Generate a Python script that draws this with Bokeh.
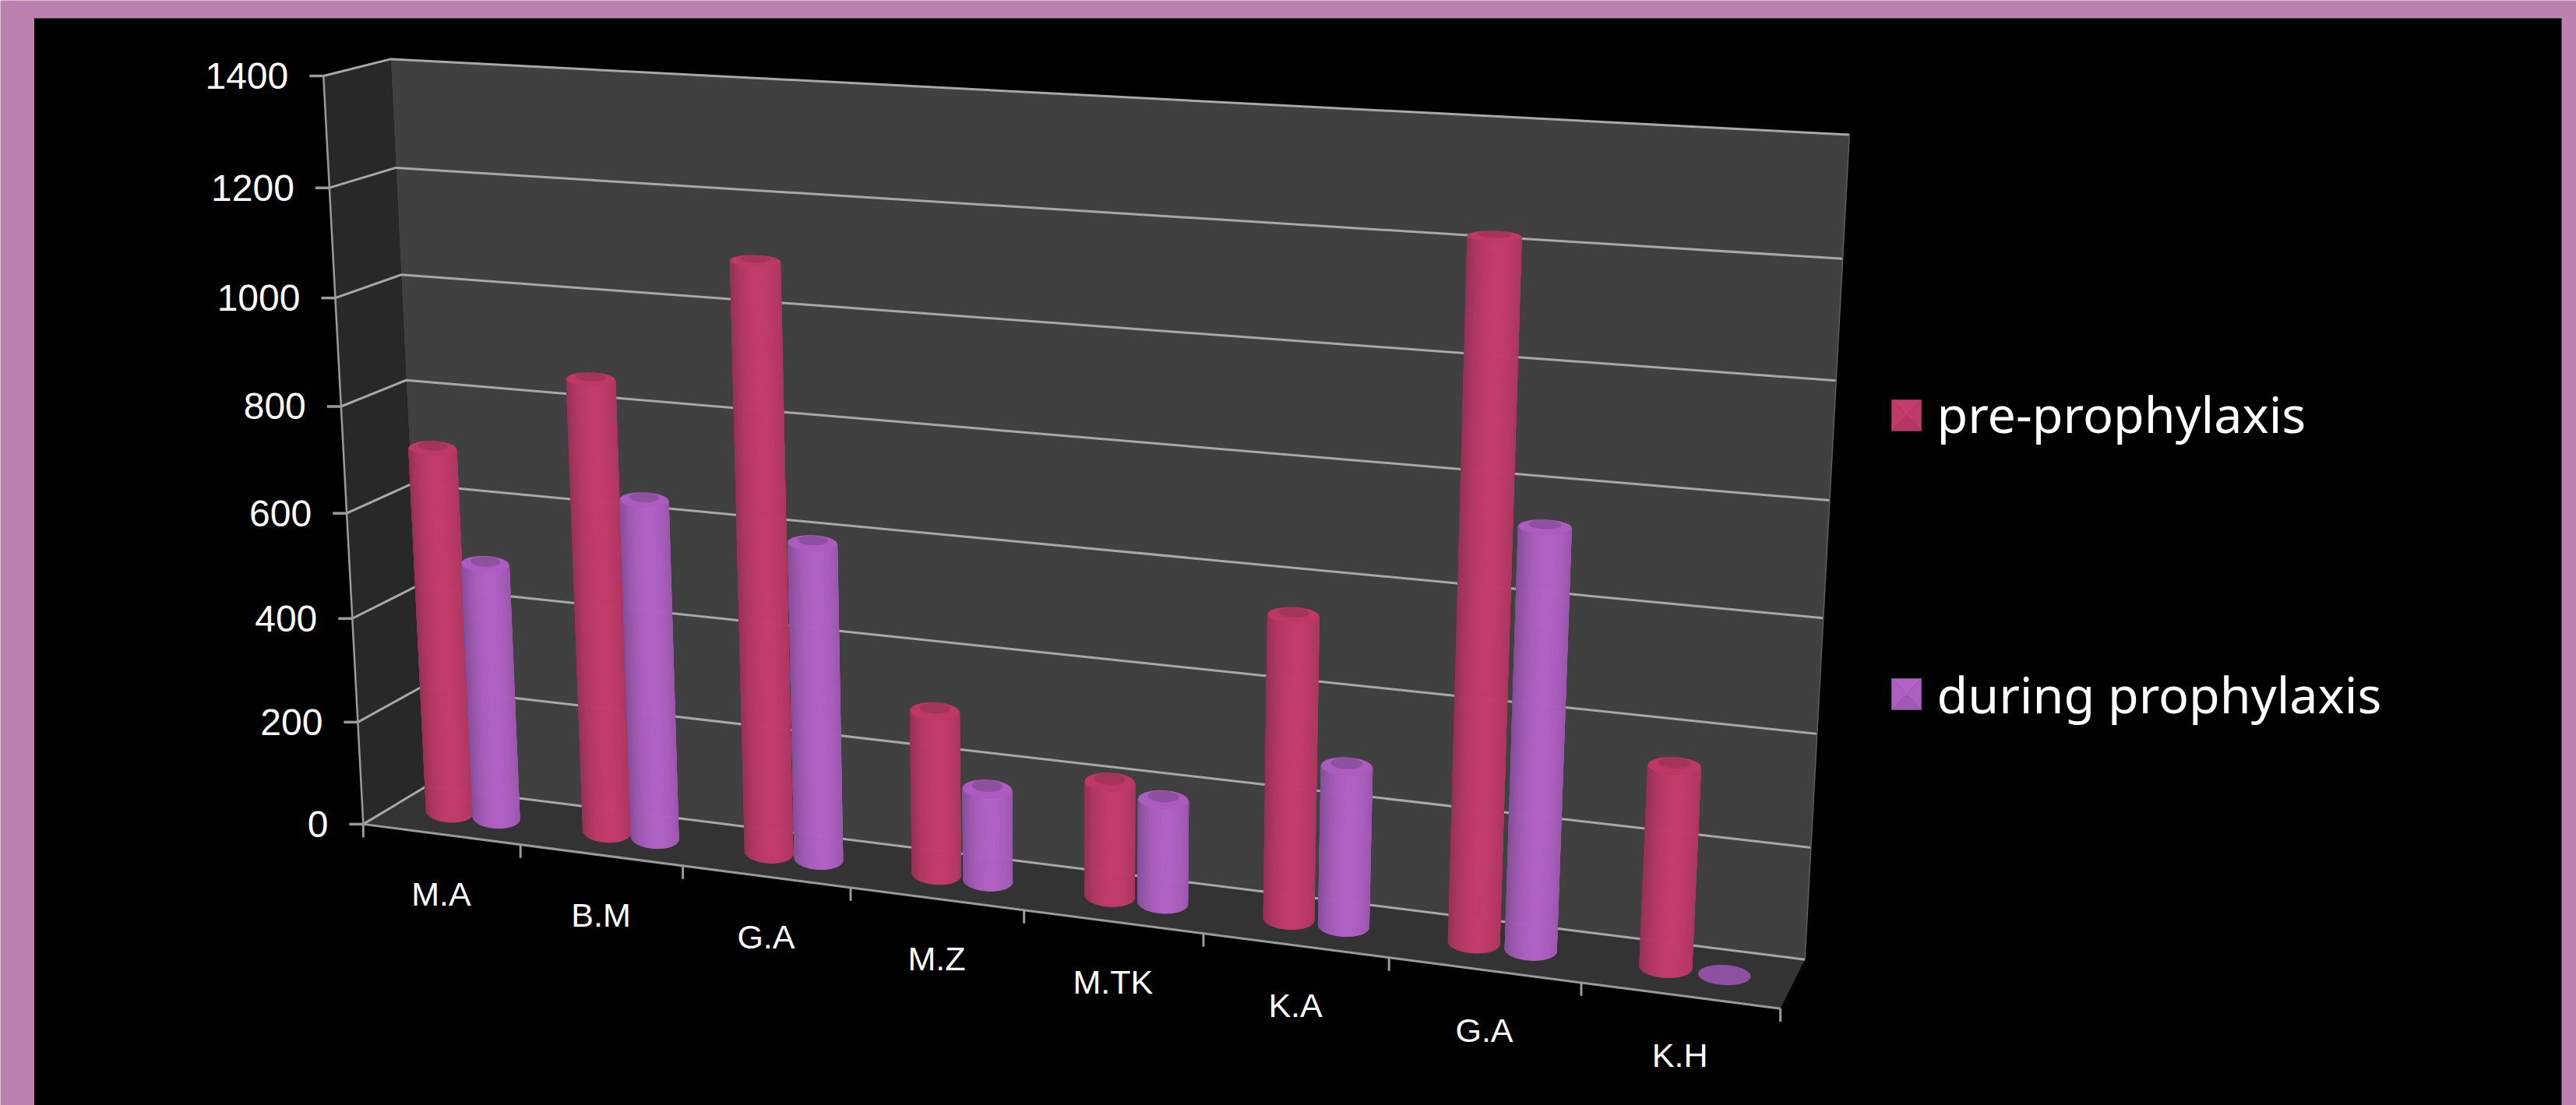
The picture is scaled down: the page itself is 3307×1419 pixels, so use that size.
import numpy as np
from bokeh.core.properties import value
from bokeh.embed import file_html
from bokeh.models import ColumnDataSource, Range1d
from bokeh.plotting import figure
from bokeh.resources import INLINE

# Chart content
categories = ["M.A", "B.M", "G.A", "M.Z", "M.TK", "K.A", "G.A", "K.H"]
pre_prophylaxis = [705, 860, 1097, 307, 213, 550, 1223, 356]
during_prophylaxis = [494, 645, 595, 173, 192, 291, 744, 0]
value_ticks = [0, 200, 400, 600, 800, 1000, 1200, 1400]
series_names = ["pre-prophylaxis", "during prophylaxis"]

W, H = 3307, 1419
PAGE, BLACK = "#bb80ae", "#000000"
BACK_WALL, SIDE_WALL, FLOOR = "#404040", "#282828", "#333333"
GRID, AXIS = "#a8a8a8", "#9a9a9a"
RED = dict(edge=(150, 50, 86), mid=(196, 60, 108), cap=(190, 56, 102), lid=(164, 52, 90))
PURPLE = dict(edge=(134, 78, 152), mid=(178, 98, 198), cap=(172, 92, 190), lid=(142, 80, 160))

# Box corners seen on the page: (category position, value, depth) -> pixel position.
anchors = [
    (0, 0, 0, 468, 1058), (0, 1400, 0, 415, 97), (0, 800, 0, 435, 521),
    (0, 0, 1, 545, 1010), (0, 1400, 1, 502, 76), (0, 800, 1, 521, 487),
    (8, 0, 1, 2317, 1231), (8, 1400, 1, 2374, 172), (8, 800, 1, 2348, 643),
    (8, 0, 0, 2285, 1295),
]


def fit_camera(points):
    rows, rhs = [], []
    for u, v, w, x, y in points:
        rows.append([u, v, w, 1, 0, 0, 0, 0, -x * u, -x * v, -x * w])
        rhs.append(x)
        rows.append([0, 0, 0, 0, u, v, w, 1, -y * u, -y * v, -y * w])
        rhs.append(y)
    coef = np.linalg.lstsq(np.array(rows, float), np.array(rhs, float), rcond=None)[0]
    return np.append(coef, 1.0).reshape(3, 4)


CAMERA = fit_camera(anchors)


def project(u, v, w):
    u, v, w = np.broadcast_arrays(np.asarray(u, float), np.asarray(v, float), np.asarray(w, float))
    pts = np.stack([u, v, w, np.ones_like(u)])
    out = CAMERA @ pts.reshape(4, -1)
    return (out[0] / out[2]).reshape(u.shape), (out[1] / out[2]).reshape(u.shape)


def hex_of(rgb):
    return "#%02x%02x%02x" % tuple(int(round(c)) for c in rgb)


def blend(a, b, t):
    return tuple(a[i] + (b[i] - a[i]) * t for i in range(3))


p = figure(width=W, height=H, x_range=Range1d(0, W), y_range=Range1d(H, 0),
           output_backend="svg", toolbar_location=None, min_border=0,
           background_fill_color=PAGE, border_fill_color=PAGE, outline_line_color=None)
p.axis.visible = False
p.grid.visible = False

p.quad(left=[43.5], right=[3288], top=[23], bottom=[H], fill_color=BLACK, line_color=None)


def face(us, vs, ws, color):
    x, y = project(us, vs, ws)
    p.patch(list(x), list(y), fill_color=color, line_color=None)


TOP = value_ticks[-1]
N_CAT = len(categories)
face([0, N_CAT, N_CAT, 0], [0, 0, TOP, TOP], [1, 1, 1, 1], BACK_WALL)
face([0, 0, 0, 0], [0, TOP, TOP, 0], [0, 0, 1, 1], SIDE_WALL)
face([0, N_CAT, N_CAT, 0], [0, 0, 0, 0], [0, 0, 1, 1], FLOOR)

# Gridlines run along the side wall and the back wall.
for t in value_ticks:
    x, y = project([0, 0, N_CAT], [t, t, t], [0, 1, 1])
    p.line(list(x), list(y), line_color=GRID, line_width=3)

x, y = project([0, 0], [0, TOP], [0, 0])
p.line(list(x), list(y), line_color=AXIS, line_width=2.5)
x, y = project([N_CAT, N_CAT], [0, TOP], [1, 1])
p.line(list(x), list(y), line_color="#5c5c5c", line_width=1.5)
x, y = project([0, N_CAT], [0, 0], [0, 0])
p.line(list(x), list(y), line_color=AXIS, line_width=3)

# Value axis ticks and labels.
tx, ty = project(np.zeros(len(value_ticks)), value_ticks, np.zeros(len(value_ticks)))
p.segment(x0=list(tx - 18), y0=list(ty), x1=list(tx), y1=list(ty), line_color=AXIS, line_width=3.5)
p.text(x=list(tx - 45), y=list(ty), text=[str(t) for t in value_ticks],
       text_font=value("Liberation Sans"), text_font_size="48px", text_color="#ffffff",
       text_align="right", text_baseline="middle")

# Category ticks and labels.
cu = np.arange(N_CAT + 1)
cx, cy = project(cu, np.zeros_like(cu), np.zeros_like(cu))
p.segment(x0=list(cx), y0=list(cy), x1=list(cx), y1=list(cy + 17), line_color=AXIS, line_width=3)
lx, ly = project(np.arange(N_CAT) + 0.5, np.zeros(N_CAT), np.zeros(N_CAT))
p.text(x=list(lx), y=list(ly + 77), text=categories,
       text_font=value("Liberation Sans"), text_font_size="43px", text_color="#ffffff",
       text_align="center", text_baseline="middle")

# Cylinders: the foot is a nearly level ellipse on the page, solved back into
# floor coordinates and carried up to the bar's value by the same projection.
OFFSETS = (0.355, 0.655)
FOOT_HEIGHT = 13.0
FOOT_TILT = 0.05


def foot(centre, scale, lift):
    x0, y0 = project(centre, 0, 0.5)
    xu, yu = project(centre + 0.01, 0, 0.5)
    xw, yw = project(centre, 0, 0.51)
    jac = np.array([[(xu - x0) / 0.01, (xw - x0) / 0.01],
                    [(yu - y0) / 0.01, (yw - y0) / 0.01]], float)
    half_width = 16 + 0.07 * jac[0, 0]
    theta = np.linspace(0, 2 * np.pi, 145)
    dx = scale * half_width * np.cos(theta)
    dy = scale * FOOT_HEIGHT * np.sin(theta) + FOOT_TILT * dx + lift
    du, dw = np.linalg.solve(jac, np.stack([dx, dy]))
    return centre + du, 0.5 + dw


def cylinder(cat_index, offset, val, shade):
    centre = cat_index + offset
    u, w = foot(centre, 1.0, 0.0)
    bx, by = project(u, np.zeros_like(u), w)
    tx, ty = project(u, np.full_like(u, float(val)), w)

    if val > 0:
        left, right = int(np.argmin(bx[:-1])), int(np.argmax(bx[:-1]))
        i = left
        arc = [i]
        # Walk the half of the ellipse nearest the viewer (lower on the page).
        step = 1 if by[(left + 1) % 144] > by[(left - 1) % 144] else -1
        while i != right:
            i = (i + step) % 144
            arc.append(i)
        xs, ys, colors = [], [], []
        span = bx[right] - bx[left]
        for a, b in zip(arc[:-1], arc[1:]):
            pos = ((bx[a] + bx[b]) / 2 - bx[left]) / span
            t = 1 - min(abs(pos - 0.58) / 0.58, 1) ** 2.2
            colors.append(hex_of(blend(shade["edge"], shade["mid"], t)))
            xs.append([bx[a], bx[b], tx[b], tx[a]])
            ys.append([by[a], by[b], ty[b], ty[a]])
        src = ColumnDataSource(dict(xs=xs, ys=ys, fill=colors))
        p.patches("xs", "ys", source=src, fill_color="fill", line_color="fill", line_width=0.8)
        p.patch(list(tx), list(ty), fill_color=shade["cap"], line_color=None)
        inner_u, inner_w = foot(centre, 0.62, -0.33 * FOOT_HEIGHT)
        ix, iy = project(inner_u, np.full_like(inner_u, float(val)), inner_w)
        p.patch(list(ix), list(iy), fill_color=shade["lid"], line_color=None)
    else:
        p.patch(list(bx), list(by), fill_color=shade["lid"], line_color=None)


for i in range(N_CAT):
    cylinder(i, OFFSETS[0], pre_prophylaxis[i], RED)
    cylinder(i, OFFSETS[1], during_prophylaxis[i], PURPLE)

# Legend with bevelled swatches.
legend_rows = [(series_names[0], RED, 513, 530), (series_names[1], PURPLE, 871, 890)]
for label, shade, top, base in legend_rows:
    l, r, b = 2428, 2466, top + 40
    cx0, cy0 = (l + r) / 2, (top + b) / 2
    tris = [([l, r, cx0], [top, top, cy0], shade["mid"]),
            ([r, r, cx0], [top, b, cy0], blend(shade["edge"], shade["mid"], 0.85)),
            ([l, r, cx0], [b, b, cy0], blend(shade["edge"], shade["mid"], 0.6)),
            ([l, l, cx0], [top, b, cy0], blend(shade["edge"], shade["mid"], 0.92))]
    for xs, ys, c in tris:
        p.patch(xs, ys, fill_color=hex_of(c), line_color=hex_of(c), line_width=0.5)
    p.text(x=[2486], y=[base], text=[label], text_font=value("Noto Sans"),
           text_font_size="64.6px", text_color="#ffffff", text_align="left",
           text_baseline="alphabetic")

open("out.html", "w").write(file_html(p, INLINE))
